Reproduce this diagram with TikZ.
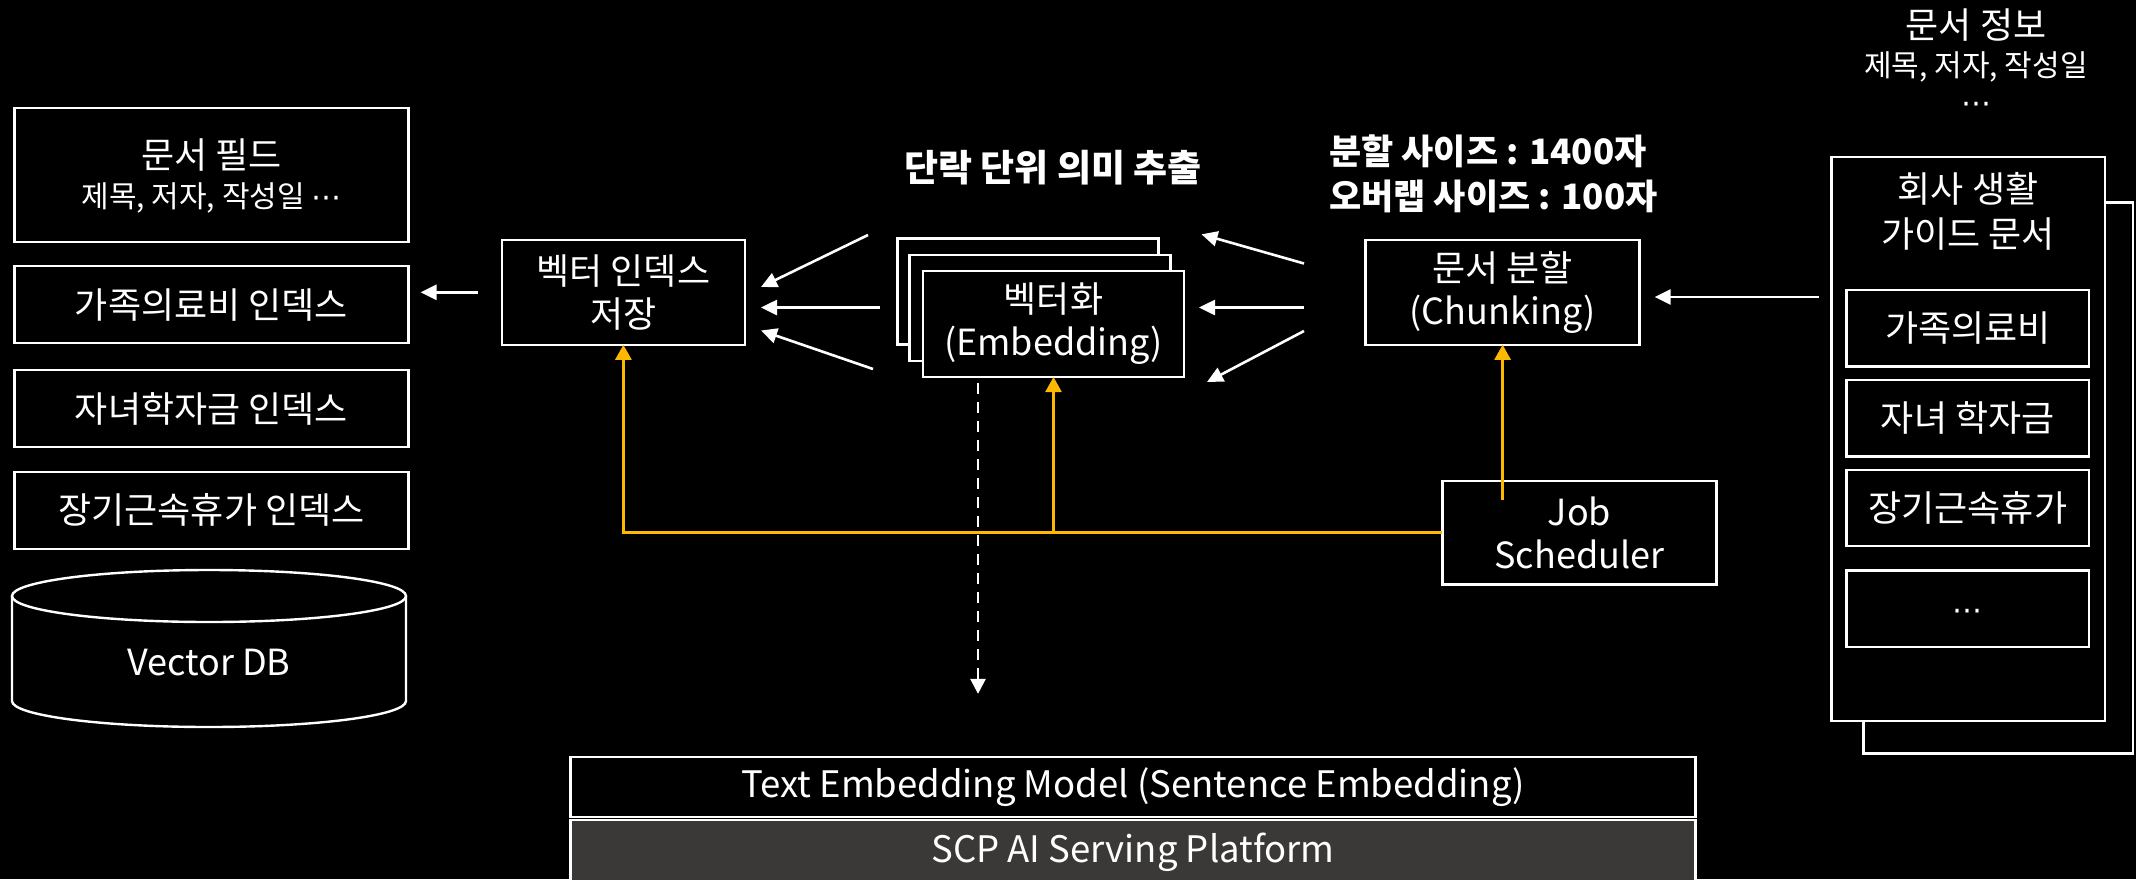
\documentclass[tikz,border=0pt]{standalone}
\usepackage{fontspec}
\setmainfont{Noto Sans CJK KR}
\newfontfamily\symfont{DejaVu Sans}
\usetikzlibrary{arrows.meta,calc}
\definecolor{amber}{HTML}{FFB800}
\definecolor{platgray}{HTML}{3A3937}
\newcommand{\mdots}{{\symfont ⋯}}
\begin{document}
\begin{tikzpicture}[x=1pt,y=-1pt,
  box/.style={draw=white, line width=2.4pt, fill=black, inner sep=0pt, outer sep=0pt,
    align=center, text=white, font=\fontsize{36}{43}\selectfont},
  lbl/.style={text=white, inner sep=0pt, align=center, font=\fontsize{36}{43}\selectfont},
  small/.style={text=white, inner sep=0pt, align=center, font=\fontsize{30}{36}\selectfont},
  heading/.style={text=white, inner sep=0pt, font=\bfseries\fontsize{35}{45}\selectfont},
  wline/.style={draw=white, line width=2.6pt, -{Triangle[length=16pt,width=15pt]}},
  oline/.style={draw=amber, line width=2.6pt},
  oarr/.style={oline, -{Triangle[length=15pt,width=16pt]}},
  dline/.style={draw=white, line width=2.6pt, dash pattern=on 11pt off 8pt,
    -{Triangle[length=15pt,width=15pt]}},
]
\fill[black] (0,0) rectangle (2136,879);
\useasboundingbox (0,0) rectangle (2136,879);

% ---- index column ----
\node[box, minimum width=394pt, minimum height=134pt] (docfield) at (211.5,174.8) {};
\node[lbl] (docfieldtitle) at (211.5,155) {문서 필드};
\node[small] (docfieldsub) at (211.5,198) {제목, 저자, 작성일 \mdots};
\node[box, minimum width=394pt, minimum height=77pt] (idxA) at (211.5,304.7) {가족의료비 인덱스};
\node[box, minimum width=394pt, minimum height=77pt] (idxB) at (211.5,408.6) {자녀학자금 인덱스};
\node[box, minimum width=394pt, minimum height=77pt] (idxC) at (211.5,510.2) {장기근속휴가 인덱스};

% vector database cylinder
\draw[white, line width=2.4pt] (12,596) -- (12,701)
  arc[start angle=180, end angle=0, x radius=197, y radius=26] -- (406,596);
\draw[white, line width=2.4pt] (209,596) ellipse [x radius=197, y radius=26];
\node[lbl] (vdb) at (209,663) {Vector DB};

% ---- vector index store ----
\node[box, minimum width=243pt, minimum height=105pt] (store) at (623.4,292.3) {벡터 인덱스\\저장};
\draw[wline] ($(store.west)+(-24,0)$) -- ($(store.west -| idxA.east)+(12,0)$);

% ---- embedding stack ----
\node[heading, font=\bfseries\fontsize{37}{45}\selectfont] (embtitle) at (1053,168) {단락 단위 의미 추출};
\node[box, minimum width=261pt, minimum height=106pt] (embA) at (1028,291.5) {};
\node[box, minimum width=261pt, minimum height=106pt] (embB) at (1040,308) {};
\node[box, minimum width=261pt, minimum height=106pt] (embC) at (1053.5,324) {벡터화\\(Embedding)};

\coordinate (l1s) at (868,235);   \coordinate (l1e) at (761,287);
\coordinate (l2s) at (880,307.5); \coordinate (l2e) at (761,307.5);
\coordinate (l3s) at (873,369);   \coordinate (l3e) at (761,330.5);
\draw[wline] (l1s) -- (l1e);
\draw[wline] (l2s) -- (l2e);
\draw[wline] (l3s) -- (l3e);

\coordinate (r1s) at (1304,263.5); \coordinate (r1e) at (1201.5,234.3);
\coordinate (r2s) at (1304,307.5); \coordinate (r2e) at (1199,307.5);
\coordinate (r3s) at (1304,331);   \coordinate (r3e) at (1207,382);
\draw[wline] (r1s) -- (r1e);
\draw[wline] (r2s) -- (r2e);
\draw[wline] (r3s) -- (r3e);

% ---- chunking ----
\node[heading, anchor=west, align=left] (chunktitle) at (1329,174) {분할 사이즈 : 1400자\\오버랩 사이즈 : 100자};
\node[box, minimum width=274pt, minimum height=104.5pt] (chunk) at (1502.6,292.5) {문서 분할\\(Chunking)};

% ---- source document ----
\node[lbl] (infotitle) at (1976,25) {문서 정보};
\node[small] (infosub) at (1976,67) {제목, 저자, 작성일};
\node[small] (infodots) at (1976,108) {\mdots};
\node[box, minimum width=269.4pt, minimum height=551.2pt] (guideback) at (1998.3,478) {};
\node[box, minimum width=273.4pt, minimum height=564.5pt] (guide) at (1968.3,439) {};
\node[lbl, font=\fontsize{36}{45}\selectfont] (guidetitle) at (1968,211.5) {회사 생활\\가이드 문서};
\node[box, minimum width=242.5pt, minimum height=76.5pt] (gA) at (1967.8,328.3) {가족의료비};
\node[box, minimum width=242.5pt, minimum height=76.5pt] (gB) at (1967.8,418.3) {자녀 학자금};
\node[box, minimum width=242.5pt, minimum height=76.5pt] (gC) at (1967.8,508) {장기근속휴가};
\node[box, minimum width=242.5pt, minimum height=76.5pt] (gD) at (1967.8,608.8) {};
\node[small] (gDdots) at (1967.8,615) {\mdots};
\draw[wline] ($(guide.west |- chunk.east)+(-13,4.5)$) -- ($(chunk.east)+(15,4.5)$);

% ---- scheduler ----
\node[box, minimum width=274pt, minimum height=103.5pt] (job) at (1579.4,532.7) {Job\\Scheduler};
\draw[oarr] (job.west) -| (store.south);
\draw[oarr] (embC.south |- job.west) -- (embC.south);
\draw[oarr] ($(chunk.south |- job.north)+(0,19)$) -- (chunk.south);

% ---- model serving ----
\node[box, minimum width=1125pt, minimum height=60.3pt, font=\fontsize{36.5}{42}\selectfont] (model) at (1133,787) {Text Embedding Model (Sentence Embedding)};
\node[box, fill=platgray, minimum width=1125pt, minimum height=64pt, font=\fontsize{36.5}{42}\selectfont] (platform) at (1133,852) {SCP AI Serving Platform};
\draw[dline] ($(embC.south west)+(55,6)$) -- ($(embC.south west |- model.north)+(55,-63)$);
\end{tikzpicture}
\end{document}
